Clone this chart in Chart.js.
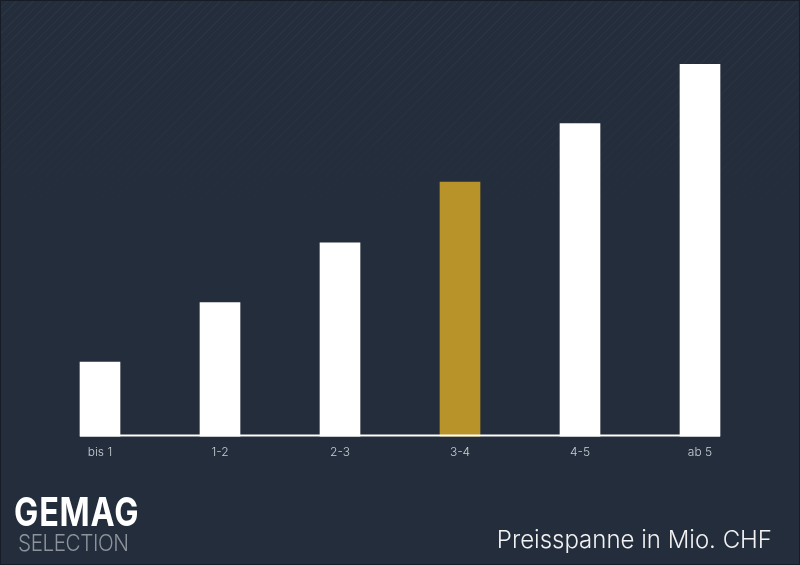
<!DOCTYPE html>
<html lang="de">
<head>
<meta charset="utf-8">
<title>Preisspanne</title>
<script src="https://cdn.jsdelivr.net/npm/chart.js@4.4.1/dist/chart.umd.min.js"></script>
<style>
    html, body { margin: 0; padding: 0; }
    body {
        width: 800px;
        height: 565px;
        background: #232d3b;
        position: relative;
        overflow: hidden;
        font-family: "Inter", "Open Sans", sans-serif;
    }
    .frame {
        position: absolute; inset: 0;
        border: 1px solid #161d26;
        box-sizing: border-box;
        pointer-events: none;
    }
    /* faint architectural texture in the top part */
    .texture {
        position: absolute; left: 0; top: 0; width: 800px; height: 240px;
        background:
            repeating-linear-gradient(135deg, rgba(255,255,255,0.035) 0 1px, transparent 1px 6px);
        -webkit-mask-image: linear-gradient(to bottom, rgba(0,0,0,1), rgba(0,0,0,0));
        mask-image: linear-gradient(to bottom, rgba(0,0,0,1), rgba(0,0,0,0));
    }
    #chart-wrap { position: absolute; left: 0; top: 0; width: 800px; height: 565px; }
    .logo { position: absolute; left: 14px; top: 492px; color: #ffffff; }
    .logo .main {
        font-family: "Inter", sans-serif;
        font-weight: bold;
        font-size: 40px;
        letter-spacing: 1px;
        line-height: 40px;
        transform: scaleX(0.81);
        transform-origin: left top;
    }
    .logo .sub {
        font-family: "Inter", sans-serif;
        font-weight: 300;
        font-size: 23px;
        color: #8c939c;
        margin-left: 4px;
        letter-spacing: -0.5px;
        line-height: 22px;
        transform: scaleX(0.9);
        transform-origin: left top;
    }
    .caption {
        position: absolute; right: 28px; top: 525px;
        color: #f2f2f2;
        font-weight: 300;
        font-size: 24px;
    }
</style>
</head>
<body>
<div class="texture"></div>
<div id="chart-wrap"><canvas id="price-chart" width="800" height="565"></canvas></div>
<div class="logo">
    <div class="main">GEMAG</div>
    <div class="sub">SELECTION</div>
</div>
<div class="caption">Preisspanne in Mio. CHF</div>
<div class="frame"></div>
<script>
    // price bands (Mio. CHF) and relative bar heights
    const categories = ["bis 1", "1-2", "2-3", "3-4", "4-5", "ab 5"];
    const values = [20, 36, 52, 68.3, 84, 100];
    const highlightIndex = 3;

    const barColors = categories.map((_, i) => i === highlightIndex ? "#b8932a" : "#ffffff");

    // white base line spanning from first bar to last bar
    const baseLine = {
        id: "baseLine",
        afterDatasetsDraw(chart) {
            const ctx = chart.ctx;
            const y = chart.scales.y;
            const meta = chart.getDatasetMeta(0);
            const first = meta.data[0];
            const last = meta.data[meta.data.length - 1];
            const y0 = y.getPixelForValue(0);
            ctx.save();
            ctx.strokeStyle = "#ffffff";
            ctx.lineWidth = 2;
            ctx.beginPath();
            ctx.moveTo(first.x - first.width / 2, y0 - 1);
            ctx.lineTo(last.x + last.width / 2, y0 - 1);
            ctx.stroke();
            ctx.restore();
        }
    };

    const ctx = document.getElementById("price-chart").getContext("2d");
    new Chart(ctx, {
        type: "bar",
        data: {
            labels: categories,
            datasets: [{
                data: values,
                backgroundColor: barColors,
                borderWidth: 0,
                barThickness: 40,
            }],
        },
        options: {
            responsive: false,
            animation: false,
            layout: { padding: { left: 40, right: 40, top: 64, bottom: 96 } },
            plugins: {
                legend: { display: false },
                tooltip: { enabled: false },
            },
            scales: {
                x: {
                    grid: { display: false, drawTicks: false },
                    border: { display: false },
                    ticks: {
                        color: "#c9ced5",
                        padding: 9,
                        font: { family: "Inter", size: 12, weight: 300 },
                    },
                },
                y: {
                    display: false,
                    min: 0,
                    max: 100,
                },
            },
        },
        plugins: [baseLine],
    });
</script>
</body>
</html>
